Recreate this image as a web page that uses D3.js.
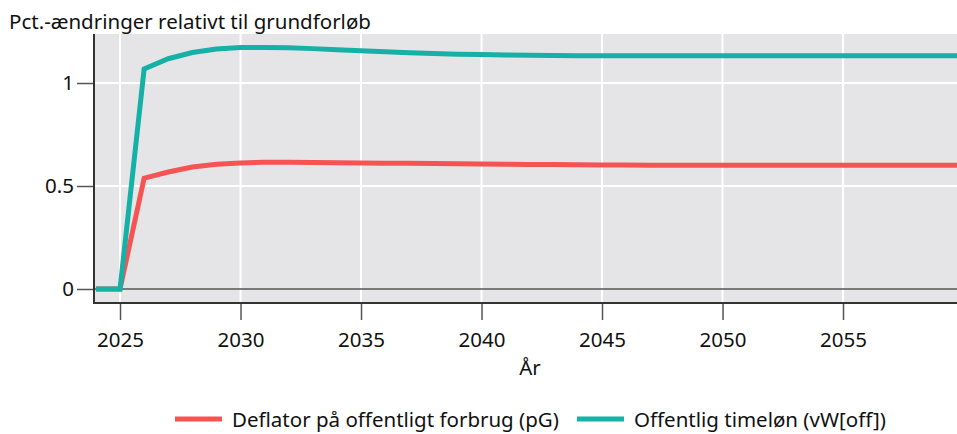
<!DOCTYPE html>
<html><head><meta charset="utf-8">
<script src="https://cdn.jsdelivr.net/npm/d3@7"></script>
<style>body{margin:0;background:#fff}svg{display:block}text{font-family:"Noto Sans",sans-serif;fill:#111}</style>
</head><body><svg id="c" width="957" height="434"></svg>
<script>
const years = d3.range(2024, 2061);
const pG = [0,0,0.538,0.568,0.592,0.606,0.612,0.615,0.615,0.614,0.613,0.612,0.611,0.610,0.609,0.608,0.607,0.606,0.605,0.604,0.603,0.602,0.602,0.601,0.601,0.601,0.601,0.601,0.601,0.601,0.601,0.601,0.601,0.601,0.601,0.601,0.601];
const vWoff = [0,0,1.068,1.118,1.148,1.165,1.172,1.173,1.171,1.167,1.162,1.157,1.152,1.147,1.143,1.140,1.138,1.136,1.135,1.134,1.133,1.132,1.132,1.132,1.132,1.132,1.132,1.132,1.132,1.132,1.132,1.132,1.132,1.132,1.132,1.132,1.132];
const seriesNames = ["Deflator på offentligt forbrug (pG)", "Offentlig timeløn (vW[off])"];
const colors = ["#F65453", "#15B0A6"];
const xTicks = [2025,2030,2035,2040,2045,2050,2055];
const yTicks = [0,0.5,1];
const yTickLabels = ["0","0.5","1"];
const title = "Pct.-ændringer relativt til grundforløb";
const xTitle = "År";

const FS = "20.5px";
const L=94, R=957, T=34, B=303;
const svg = d3.select("#c");
const x = d3.scaleLinear().domain([2023.92, 2059.73]).range([L, R]);
const y = d3.scaleLinear().domain([-0.068, 1.238]).range([B, T]);

svg.append("defs").append("clipPath").attr("id","clip").append("rect").attr("x",L).attr("y",T).attr("width",R-L).attr("height",B-T);
svg.append("rect").attr("x",L).attr("y",T).attr("width",R-L).attr("height",B-T).attr("fill","#E5E5E8");

const g = svg.append("g");
g.selectAll(".vg").data(xTicks).join("line").attr("x1",d=>x(d)).attr("x2",d=>x(d)).attr("y1",T).attr("y2",B).attr("stroke","#fff").attr("stroke-width",2);
g.selectAll(".hg").data(yTicks.filter(d=>d!==0)).join("line").attr("x1",L).attr("x2",R).attr("y1",d=>y(d)).attr("y2",d=>y(d)).attr("stroke","#fff").attr("stroke-width",2);
svg.append("line").attr("x1",L).attr("x2",R).attr("y1",y(0)).attr("y2",y(0)).attr("stroke","#555").attr("stroke-width",1.5);

const line = d3.line().x((d,i)=>x(years[i])).y(d=>y(d));
[pG, vWoff].forEach((s,k)=>{
  svg.append("path").attr("d",line(s)).attr("fill","none").attr("stroke",colors[k]).attr("stroke-width",5).attr("stroke-linejoin","miter").attr("clip-path","url(#clip)");
});

const xa = svg.append("g").attr("transform",`translate(0,${B})`).call(d3.axisBottom(x).tickValues(xTicks).tickFormat(d3.format("d")).tickSize(17).tickPadding(12));
const ya = svg.append("g").attr("transform",`translate(${L},0)`).call(d3.axisLeft(y).tickValues(yTicks).tickFormat((d,i)=>yTickLabels[i]).tickSize(17).tickPadding(3));
[xa,ya].forEach(a=>{
  a.select(".domain").remove();
  a.selectAll(".tick line").attr("stroke","#555").attr("stroke-width",1.5);
  a.selectAll(".tick text").style("font-size",FS).attr("fill","#111");
});
svg.append("line").attr("x1",L).attr("x2",L).attr("y1",T).attr("y2",B+1).attr("stroke","#333").attr("stroke-width",2);
svg.append("line").attr("x1",L-1).attr("x2",R).attr("y1",B).attr("y2",B).attr("stroke","#333").attr("stroke-width",2);

svg.append("text").attr("x",9).attr("y",29).style("font-size",FS).text(title);
svg.append("text").attr("x",530).attr("y",375).attr("text-anchor","middle").style("font-size",FS).text(xTitle);

const lg = svg.append("g");
const lx = [175, 577];
seriesNames.forEach((n,k)=>{
  lg.append("line").attr("x1",lx[k]).attr("x2",lx[k]+47).attr("y1",419).attr("y2",419).attr("stroke",colors[k]).attr("stroke-width",5);
  lg.append("text").attr("x",lx[k]+57).attr("y",427).style("font-size",FS).text(n);
});
</script></body></html>
